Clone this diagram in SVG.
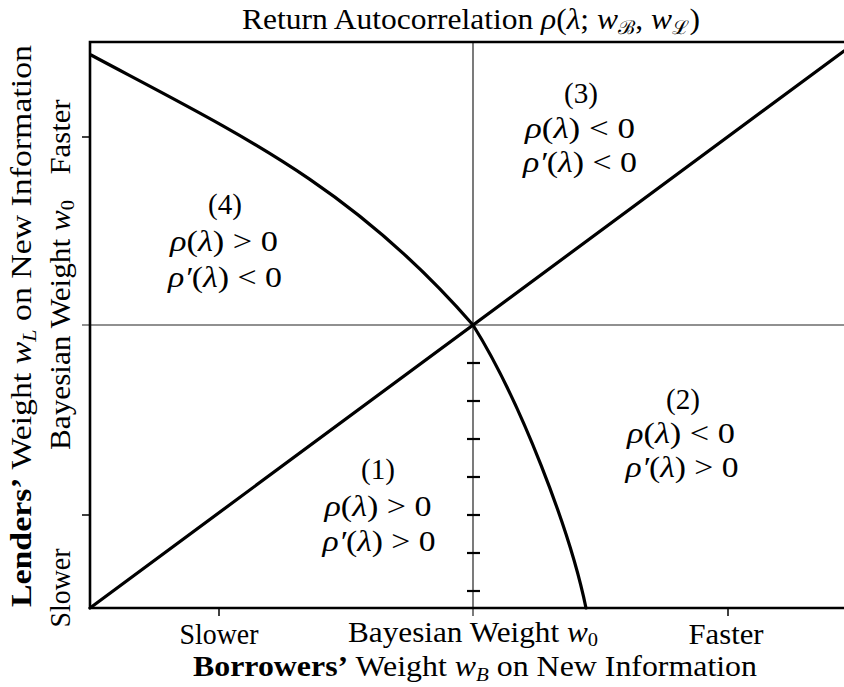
<svg xmlns="http://www.w3.org/2000/svg" width="844" height="687" viewBox="0 0 844 687">
<style>
text{font-family:"Liberation Serif","DejaVu Serif",serif;font-size:29px;fill:#000;text-anchor:middle}
.i{font-style:italic}
.b{font-weight:bold}
.frame{stroke:#000;stroke-width:2.6;fill:none}
.thin{stroke:#222;stroke-width:1.2;fill:none}
.tick{stroke:#000;stroke-width:1.5}
.mtick{stroke:#000;stroke-width:2.2}
.curve{stroke:#000;stroke-width:3.2;fill:none;stroke-linecap:round}
</style>
<rect width="844" height="687" fill="#fff"/>
<text id="title" x="471" y="29" textLength="458" lengthAdjust="spacingAndGlyphs">Return Autocorrelation <tspan class="i">ρ</tspan>(<tspan class="i">λ</tspan>; <tspan class="i">w</tspan><tspan font-size="19" dy="5">ℬ</tspan><tspan dy="-5">, </tspan><tspan class="i">w</tspan><tspan font-size="19" dy="5">ℒ</tspan><tspan dy="-5">)</tspan></text>
<g id="axes">
<line class="thin" x1="473" y1="42" x2="473" y2="616"/>
<line class="thin" x1="82" y1="325" x2="844" y2="325"/>
<path class="frame" d="M844,42 H90 V608 H844"/>
<line class="tick" x1="82" y1="137" x2="90" y2="137"/>
<line class="tick" x1="82" y1="515" x2="90" y2="515"/>
<line class="tick" x1="219" y1="608" x2="219" y2="616"/>
<line class="tick" x1="728" y1="608" x2="728" y2="616"/>
<g id="center-ticks">
<line class="mtick" x1="467" y1="363" x2="480" y2="363"/>
<line class="mtick" x1="467" y1="401" x2="480" y2="401"/>
<line class="mtick" x1="467" y1="439" x2="480" y2="439"/>
<line class="mtick" x1="467" y1="477" x2="480" y2="477"/>
<line class="mtick" x1="467" y1="515" x2="480" y2="515"/>
<line class="mtick" x1="467" y1="553" x2="480" y2="553"/>
<line class="mtick" x1="467" y1="591" x2="480" y2="591"/>
</g>
</g>
<g id="connectors">
<line class="curve" x1="90" y1="608" x2="844" y2="51"/>
<path class="curve" d="M91,55 C241,135 353,187 473,325 C520,400 570,530 586,608"/>
</g>
<g id="region3">
<text x="581" y="103" textLength="34" lengthAdjust="spacingAndGlyphs">(3)</text>
<text x="580" y="138" textLength="110" lengthAdjust="spacingAndGlyphs"><tspan class="i">ρ</tspan>(<tspan class="i">λ</tspan>) &lt; 0</text>
<text x="580" y="172" textLength="114" lengthAdjust="spacingAndGlyphs"><tspan class="i">ρ′</tspan>(<tspan class="i">λ</tspan>) &lt; 0</text>
</g>
<g id="region4">
<text x="225" y="214" textLength="34" lengthAdjust="spacingAndGlyphs">(4)</text>
<text x="224" y="251" textLength="108" lengthAdjust="spacingAndGlyphs"><tspan class="i">ρ</tspan>(<tspan class="i">λ</tspan>) &gt; 0</text>
<text x="225" y="287" textLength="114" lengthAdjust="spacingAndGlyphs"><tspan class="i">ρ′</tspan>(<tspan class="i">λ</tspan>) &lt; 0</text>
</g>
<g id="region2">
<text x="683" y="409" textLength="34" lengthAdjust="spacingAndGlyphs">(2)</text>
<text x="681" y="443" textLength="108" lengthAdjust="spacingAndGlyphs"><tspan class="i">ρ</tspan>(<tspan class="i">λ</tspan>) &lt; 0</text>
<text x="682" y="477" textLength="113" lengthAdjust="spacingAndGlyphs"><tspan class="i">ρ′</tspan>(<tspan class="i">λ</tspan>) &gt; 0</text>
</g>
<g id="region1">
<text x="378" y="479" textLength="34" lengthAdjust="spacingAndGlyphs">(1)</text>
<text x="378" y="516" textLength="107" lengthAdjust="spacingAndGlyphs"><tspan class="i">ρ</tspan>(<tspan class="i">λ</tspan>) &gt; 0</text>
<text x="379" y="551" textLength="113" lengthAdjust="spacingAndGlyphs"><tspan class="i">ρ′</tspan>(<tspan class="i">λ</tspan>) &gt; 0</text>
</g>
<g id="x-axis-labels">
<text x="219" y="644" textLength="79" lengthAdjust="spacingAndGlyphs">Slower</text>
<text x="473" y="642" textLength="250" lengthAdjust="spacingAndGlyphs">Bayesian Weight <tspan class="i">w</tspan><tspan font-size="19" dy="4">0</tspan></text>
<text x="726" y="644" textLength="75" lengthAdjust="spacingAndGlyphs">Faster</text>
<text x="475" y="676" textLength="564" lengthAdjust="spacingAndGlyphs"><tspan class="b">Borrowers’</tspan> Weight <tspan class="i">w</tspan><tspan class="i" font-size="19" dy="5">B</tspan><tspan dy="-5"> on New Information</tspan></text>
</g>
<g id="y-axis-labels">
<text transform="translate(31,326) rotate(-90)" textLength="562" lengthAdjust="spacingAndGlyphs"><tspan class="b">Lenders’</tspan> Weight <tspan class="i">w</tspan><tspan class="i" font-size="19" dy="5">L</tspan><tspan dy="-5"> on New Information</tspan></text>
<text transform="translate(70,588) rotate(-90)" textLength="79" lengthAdjust="spacingAndGlyphs">Slower</text>
<text transform="translate(70,325) rotate(-90)" textLength="250" lengthAdjust="spacingAndGlyphs">Bayesian Weight <tspan class="i">w</tspan><tspan font-size="19" dy="4">0</tspan></text>
<text transform="translate(70,137) rotate(-90)" textLength="75" lengthAdjust="spacingAndGlyphs">Faster</text>
</g>
</svg>
